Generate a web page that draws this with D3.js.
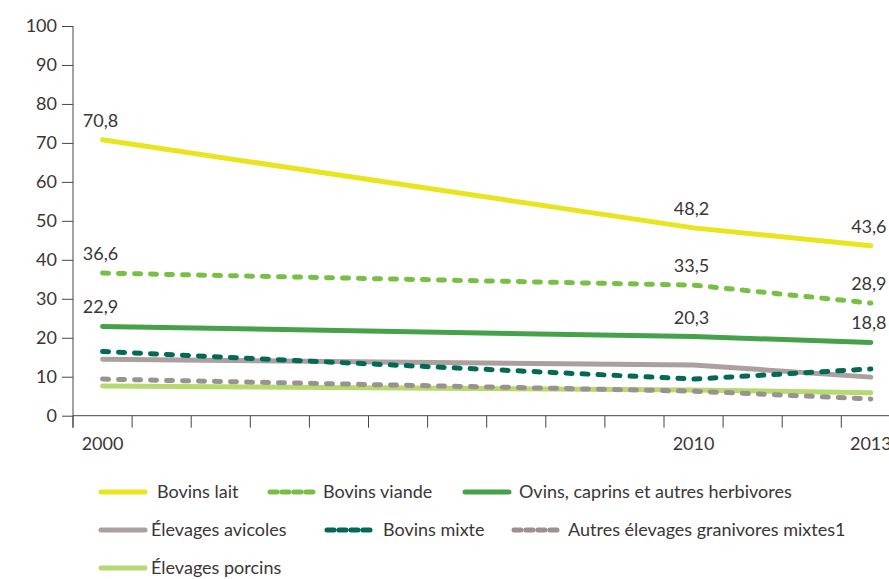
<!DOCTYPE html>
<html>
<head>
<meta charset="utf-8">
<script src="https://cdn.jsdelivr.net/npm/d3@7"></script>
<style>
  body { margin: 0; background: #fff; }
  svg text { font-family: Lato, "Open Sans", sans-serif; fill: #3b3536; }
</style>
</head>
<body>
<div id="viz"></div>
<script>
// categories (one band per year) and the years that carry a label
var years = [2000, 2001, 2002, 2003, 2004, 2005, 2006, 2007, 2008, 2009, 2010, 2011, 2012, 2013];
var labelYears = [2000, 2010, 2013];
var yTicks = [0, 10, 20, 30, 40, 50, 60, 70, 80, 90, 100];

// data points (only 2000, 2010, 2013)
var dataYears = [2000, 2010, 2013];
var bovinsLait = [70.8, 48.2, 43.6];
var bovinsViande = [36.6, 33.5, 28.9];
var ovins = [22.9, 20.3, 18.8];
var avicoles = [14.5, 13.0, 9.9];
var bovinsMixte = [16.5, 9.4, 12.0];
var autresGranivores = [9.4, 6.3, 4.3];
var porcins = [7.6, 6.6, 5.9];

var seriesNames = ["Bovins lait", "Bovins viande", "Ovins, caprins et autres herbivores",
  "Élevages avicoles", "Bovins mixte", "Autres élevages granivores mixtes1", "Élevages porcins"];
var seriesValues = [bovinsLait, bovinsViande, ovins, avicoles, bovinsMixte, autresGranivores, porcins];
var seriesColors = ["#e8e51e", "#77c044", "#46a24a", "#aaa19f", "#006a56", "#9b918e", "#b6da70"];
var seriesDashed = [false, true, false, false, true, true, false];
var showLabels = [true, true, true, false, false, false, false];

var width = 889, height = 579;
var svg = d3.select('#viz').append('svg')
    .attr("width", width)
    .attr("height", height);

var x = d3.scaleBand()
    .domain(years)
    .range([73, 73 + 14 * 59.1]);

var y = d3.scaleLinear()
    .domain([0, 100])
    .range([415.7, 26]);

function cx(yr) { return x(yr) + x.bandwidth() / 2; }

// y axis
var yAxisG = svg.append("g")
    .attr("transform", "translate(73,0)")
    .call(d3.axisLeft(y).tickValues(yTicks).tickSize(11).tickPadding(5).tickSizeOuter(0));
yAxisG.select(".domain").remove();
yAxisG.selectAll("line").attr("stroke", "#4a4446");
yAxisG.selectAll("text").style("font-size", "18px").attr("fill", "#3b3536");
svg.append("line")
    .attr("x1", 73).attr("x2", 73)
    .attr("y1", y(100)).attr("y2", y(0) + 12)
    .attr("stroke", "#4a4446");

// x axis: ticks on band boundaries, labels on band centres
var xAxisG = svg.append("g").attr("transform", "translate(0," + y(0) + ")");
xAxisG.append("line")
    .attr("x1", 73).attr("x2", width)
    .attr("stroke", "#4a4446");
xAxisG.selectAll(".tk")
    .data(years)
    .enter().append("line")
    .attr("class", "tk")
    .attr("x1", function(d) { return x(d); })
    .attr("x2", function(d) { return x(d); })
    .attr("y1", 0).attr("y2", 12)
    .attr("stroke", "#4a4446");
xAxisG.selectAll(".lb")
    .data(labelYears)
    .enter().append("text")
    .attr("class", "lb")
    .attr("x", function(d) { return cx(d); })
    .attr("y", 34)
    .style("text-anchor", "middle")
    .style("font-size", "18px")
    .text(function(d) { return d; });

var line = d3.line()
    .x(function(d, i) { return cx(dataYears[i]); })
    .y(function(d) { return y(d); });

// draw bottom to top so yellow ends on top
var order = [6, 5, 3, 4, 2, 1, 0];
order.forEach(function(s) {
    svg.append("path")
        .datum(seriesValues[s])
        .attr("d", line)
        .attr("fill", "none")
        .attr("stroke", seriesColors[s])
        .attr("stroke-width", 5)
        .attr("stroke-linecap", "round")
        .attr("stroke-linejoin", "round")
        .attr("stroke-dasharray", seriesDashed[s] ? "6,10" : null);
});

// value labels
seriesValues.forEach(function(vals, s) {
    if (!showLabels[s]) return;
    vals.forEach(function(v, i) {
        svg.append("text")
            .attr("x", cx(dataYears[i]) - 2)
            .attr("y", y(v) - 13)
            .style("text-anchor", "middle")
            .style("font-size", "18px")
            .text(d3.format(".1f")(v).replace(".", ","));
    });
});

// legend
var legendPos = [
    [99, 492, 157], [268, 492, 323], [463, 492, 519],
    [99, 530, 151], [325, 530, 383], [512, 530, 568],
    [99, 568, 151]
];
legendPos.forEach(function(p, s) {
    svg.append("line")
        .attr("x1", p[0] + 2).attr("x2", p[0] + 46)
        .attr("y1", p[1]).attr("y2", p[1])
        .attr("stroke", seriesColors[s])
        .attr("stroke-width", 5)
        .attr("stroke-linecap", "round")
        .attr("stroke-dasharray", seriesDashed[s] ? "7,5" : null);
    svg.append("text")
        .attr("x", p[2])
        .attr("y", p[1])
        .attr("dy", "0.35em")
        .style("font-size", "18px")
        .text(seriesNames[s]);
});
</script>
</body>
</html>
